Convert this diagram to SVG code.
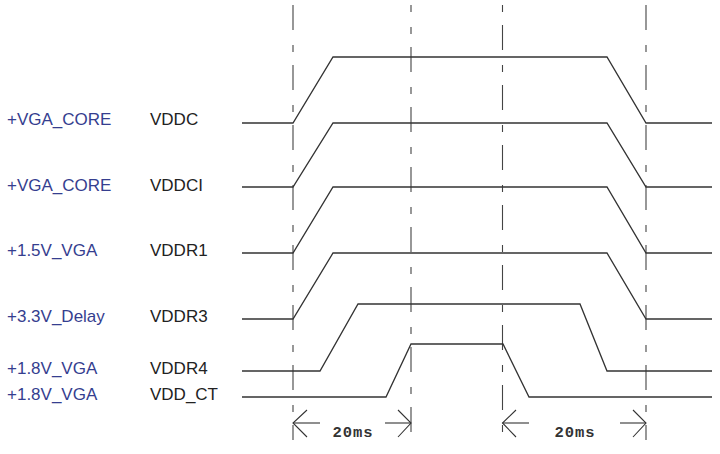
<svg xmlns="http://www.w3.org/2000/svg" width="720" height="454" viewBox="0 0 720 454">
<style>
.net{font-family:"Liberation Sans",Arial,sans-serif;font-size:17px;fill:#353e8f}
.sig{font-family:"Liberation Sans",Arial,sans-serif;font-size:17px;fill:#222}
.wave{fill:none;stroke:#333;stroke-width:1.3}
.guide{fill:none;stroke:#444;stroke-width:1.1;stroke-dasharray:25 15 7 13}
.dim{fill:none;stroke:#333;stroke-width:1.1}
.ms{font-family:"Liberation Mono","Courier New",monospace;font-size:15.5px;font-weight:bold;fill:#333;letter-spacing:1px}
</style>
<rect width="720" height="454" fill="#fff"/>
<g id="guides">
<line class="guide" x1="293" y1="5" x2="293" y2="440"/>
<line class="guide" x1="411" y1="5" x2="411" y2="440" stroke-dashoffset="-42"/>
<line class="guide" x1="502.5" y1="5" x2="502.5" y2="440" stroke-dashoffset="-20"/>
<line class="guide" x1="646" y1="5" x2="646" y2="440"/>
</g>
<g id="row-vddc">
<text class="net" x="7" y="125">+VGA_CORE</text>
<text class="sig" x="150" y="125">VDDC</text>
<polyline class="wave" points="242,123 293,123 333,57 607,57 646,123 712,123"/>
</g>
<g id="row-vddci">
<text class="net" x="7" y="191">+VGA_CORE</text>
<text class="sig" x="150" y="191">VDDCI</text>
<polyline class="wave" points="242,187 293,187 333,123 607,123 646,187 712,187"/>
</g>
<g id="row-vddr1">
<text class="net" x="7" y="256">+1.5V_VGA</text>
<text class="sig" x="150" y="256">VDDR1</text>
<polyline class="wave" points="242,253 293,253 333,187 607,187 646,253 712,253"/>
</g>
<g id="row-vddr3">
<text class="net" x="7" y="322">+3.3V_Delay</text>
<text class="sig" x="150" y="322">VDDR3</text>
<polyline class="wave" points="242,319 293,319 333,253 607,253 646,319 712,319"/>
</g>
<g id="row-vddr4">
<text class="net" x="7" y="374">+1.8V_VGA</text>
<text class="sig" x="150" y="374">VDDR4</text>
<polyline class="wave" points="242,371 320,371 358,304 580,304 607,371 712,371"/>
</g>
<g id="row-vddct">
<text class="net" x="7" y="400">+1.8V_VGA</text>
<text class="sig" x="150" y="400">VDD_CT</text>
<polyline class="wave" points="242,397 386,397 411,344 503,344 529,397 712,397"/>
</g>
<g id="connectors">
<polyline class="dim" points="307,410 293,423 307,437"/>
<line class="dim" x1="293" y1="423" x2="320" y2="423"/>
<polyline class="dim" points="398,410 411,423 398,437"/>
<line class="dim" x1="385" y1="423" x2="411" y2="423"/>
<polyline class="dim" points="516,410 502.5,423 516,437"/>
<line class="dim" x1="502.5" y1="423" x2="529" y2="423"/>
<polyline class="dim" points="633,410 646,423 633,437"/>
<line class="dim" x1="620" y1="423" x2="646" y2="423"/>
<text class="ms" x="353" y="437" text-anchor="middle">20ms</text>
<text class="ms" x="575" y="437" text-anchor="middle">20ms</text>
</g>
</svg>
